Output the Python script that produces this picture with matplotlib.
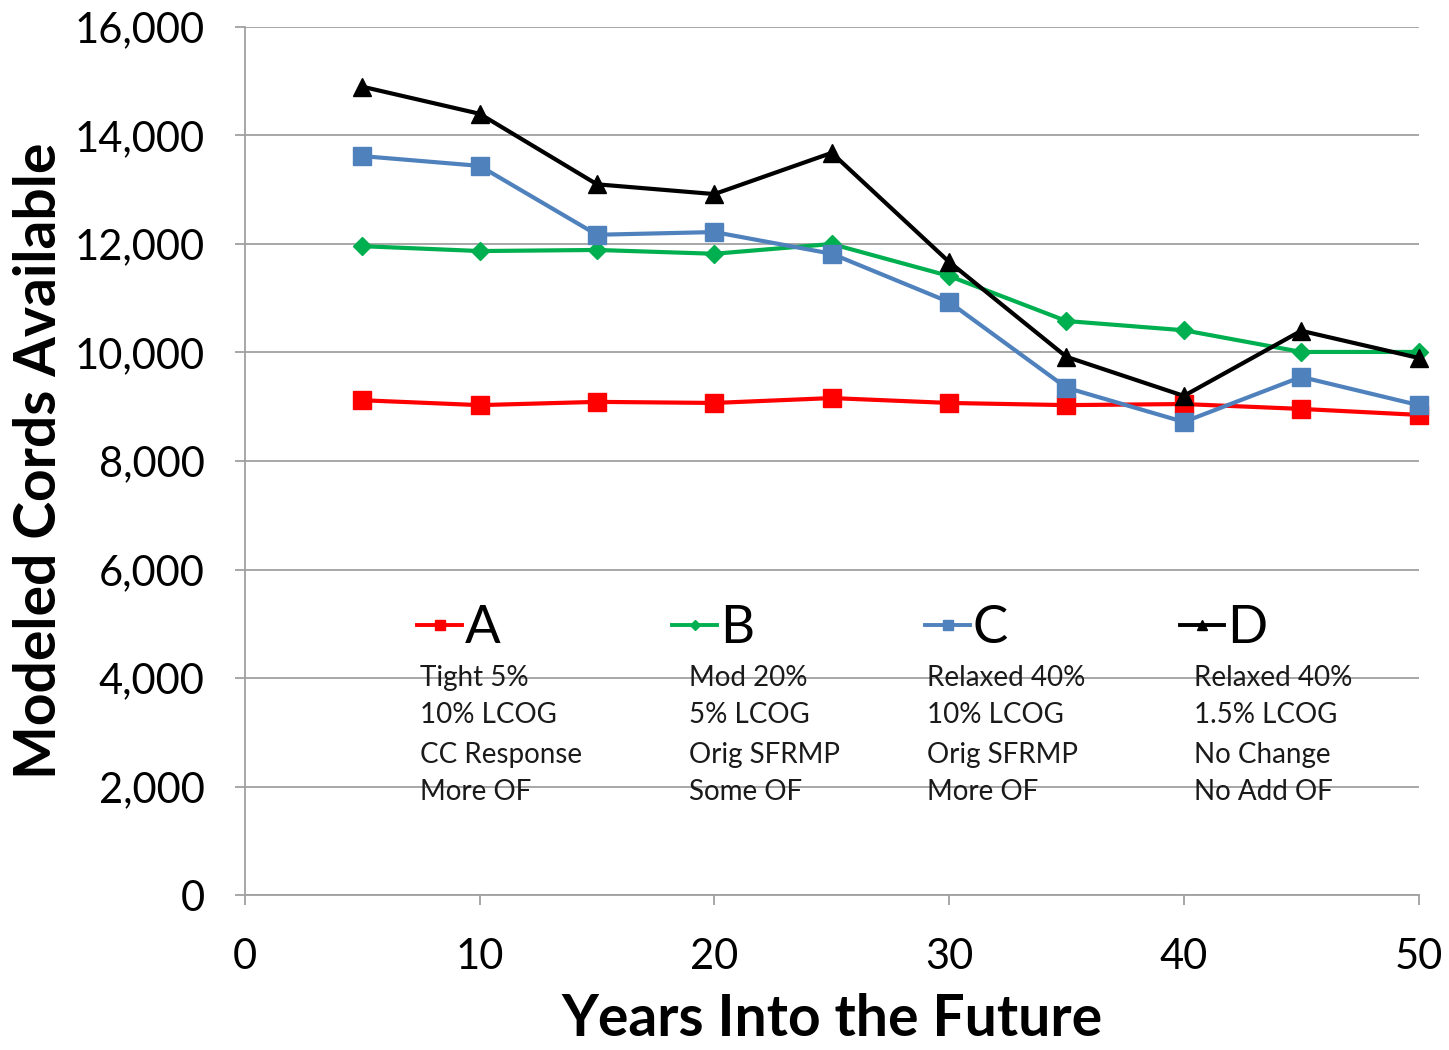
import matplotlib.pyplot as plt
from matplotlib.lines import Line2D

plt.rcParams['font.family'] = ['Lato', 'DejaVu Sans']

years = [5, 10, 15, 20, 25, 30, 35, 40, 45, 50]
cords_a = [9120, 9030, 9090, 9070, 9160, 9070, 9030, 9050, 8960, 8850]
cords_b = [11960, 11870, 11890, 11820, 12000, 11410, 10580, 10410, 10010, 10010]
cords_c = [13620, 13440, 12170, 12220, 11820, 10930, 9350, 8720, 9550, 9030]
cords_d = [14900, 14400, 13100, 12920, 13680, 11670, 9920, 9200, 10400, 9900]

scenarios = ['A', 'B', 'C', 'D']
notes = [
    ['Tight 5%', '10% LCOG', 'CC Response', 'More OF'],
    ['Mod 20%', '5% LCOG', 'Orig SFRMP', 'Some OF'],
    ['Relaxed 40%', '10% LCOG', 'Orig SFRMP', 'More OF'],
    ['Relaxed 40%', '1.5% LCOG', 'No Change', 'No Add OF'],
]
note_x = [7.45, 18.9, 29.05, 40.45]
note_y = [4000, 3310, 2590, 1890]

styles = [
    ('#FF0000', 's', 13),
    ('#00B050', 'D', 9),
    ('#4F81BD', 's', 13),
    ('#000000', '^', 13),
]

fig = plt.figure(figsize=(14.49, 10.5), dpi=100)
ax = fig.add_axes([0.169, 0.1476, 0.81, 0.8267])

for vals, (col, mk, ms) in zip([cords_a, cords_b, cords_c, cords_d], styles):
    ax.plot(years, vals, color=col, marker=mk, markersize=ms, linewidth=3.0,
            clip_on=False, zorder=3)

ax.set_xlim(0, 50)
ax.set_ylim(0, 16000)
ax.set_xticks(range(0, 51, 10))
ax.set_yticks(range(0, 16001, 2000))
ax.set_yticklabels([f'{v:,}' for v in range(0, 16001, 2000)])
ax.yaxis.grid(True, color='#A0A0A0', linewidth=1.3)
ax.set_axisbelow(True)
for s in ['top', 'right']:
    ax.spines[s].set_visible(False)
for s in ['left', 'bottom']:
    ax.spines[s].set_color('#A0A0A0')
    ax.spines[s].set_linewidth(1.3)
ax.tick_params(axis='both', labelsize=30, colors='#A0A0A0', labelcolor='black',
               length=7, width=1.3)
ax.tick_params(axis='x', pad=24)
ax.tick_params(axis='y', pad=22)

ax.set_xlabel('Years Into the Future', fontsize=41, fontweight='bold', labelpad=12)
ax.set_ylabel('Modeled Cords Available', fontsize=41, fontweight='bold', labelpad=6)

handles = [Line2D([], [], color=c, marker=m, markersize=ms * 0.6, linewidth=2.8)
           for c, m, ms in styles]
ax.legend(handles, scenarios, ncol=4, frameon=False, fontsize=38,
          loc='upper left', bbox_to_anchor=(0.129, 0.358),
          handlelength=0.85, handletextpad=0.05, columnspacing=3.25,
          borderaxespad=0)

for x0, lines in zip(note_x, notes):
    for y0, t in zip(note_y, lines):
        ax.text(x0, y0, t, fontsize=20, color='#1a1a1a', va='center', ha='left')

fig.savefig('out.png', dpi=100)
